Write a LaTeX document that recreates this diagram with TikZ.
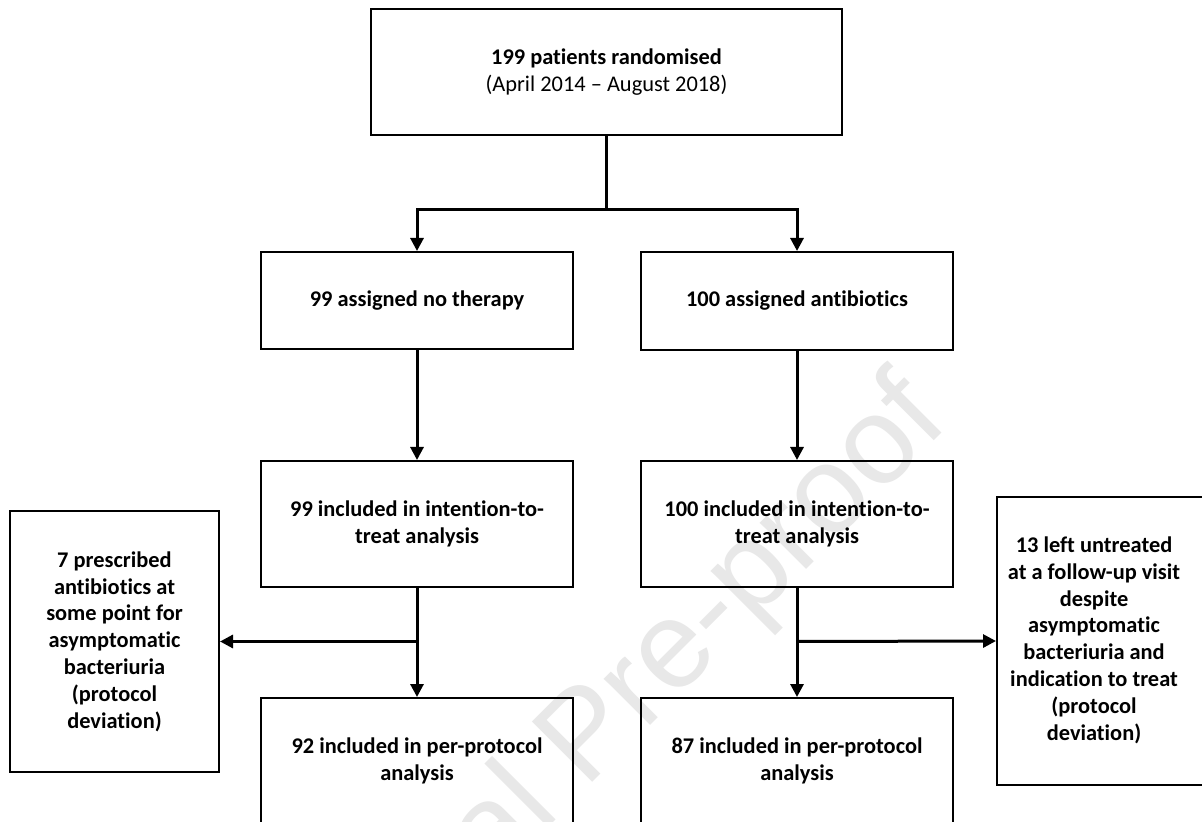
\documentclass[tikz,border=0pt]{standalone}
\usepackage{fontspec}
\setmainfont[Ligatures=NoCommon]{Carlito}
\newfontfamily\wmfont{Liberation Sans}
\usetikzlibrary{arrows.meta,calc}
\tikzset{
  box/.style={draw=black, line width=1pt, align=center, inner sep=0pt,
    font=\fontsize{11.2}{13.4}\selectfont\bfseries},
  conn/.style={draw=black, line width=1.5pt},
  arr/.style={conn, -{Triangle[length=6.5pt,width=6.5pt]}},
  wm/.style={text=black!9, font=\wmfont\fontsize{62}{70}\selectfont, rotate=45}
}
\begin{document}
\begin{tikzpicture}[x=0.5pt,y=-0.5pt]
\clip (0,0) rectangle (1202,822);
\fill[white] (0,0) rectangle (1202,822);
\node[wm] (wmark) at (590,740) {Journal Pre-proof};

\node[box, minimum width=235.5pt, minimum height=63pt] (top) at (606.5,72)
  {199 patients randomised\\{\mdseries (April 2014 -- August 2018)}};
\node[box, minimum width=156pt, minimum height=48.5pt] (nt) at (417,300.5) {99 assigned no therapy};
\node[box, minimum width=156pt, minimum height=49pt] (ab) at (797,301) {100 assigned antibiotics};
\node[box, minimum width=156pt, minimum height=63pt] (itta) at (417,524) {99 included in intention-to-\\treat analysis};
\node[box, minimum width=156pt, minimum height=63pt] (ittb) at (797,524) {100 included in intention-to-\\treat analysis};
\node[box, minimum width=156pt, minimum height=63pt] (ppa) at (417,761) {92 included in per-protocol\\analysis};
\node[box, minimum width=156pt, minimum height=63pt] (ppb) at (797,761) {87 included in per-protocol\\analysis};
\node[box, minimum width=104.5pt, minimum height=130.5pt] (deva) at (114.5,641.5)
  {7 prescribed\\antibiotics at\\some point for\\asymptomatic\\bacteriuria\\(protocol\\deviation)};
\node[box, minimum width=103pt, minimum height=144pt] (devb) at (1100,641)
  {\hspace*{-6pt}\begin{tabular}{@{}c@{}}13 left untreated\\at a follow-up visit\\despite\\asymptomatic\\bacteriuria and\\indication to treat\\(protocol\\deviation)\end{tabular}};

\coordinate (split) at (606.5,210);
\coordinate (ja) at (417,641.5);
\coordinate (jb) at (797,641.5);

\draw[conn] (top.south) -- (split);
\draw[arr] (split) -| (nt.north);
\draw[arr] (split) -| (ab.north);
\draw[arr] (nt.south) -- (itta.north);
\draw[arr] (ab.south) -- (ittb.north);
\draw[arr] (itta.south) -- (ppa.north);
\draw[arr] (ittb.south) -- (ppb.north);
\draw[arr] (ja) -- (deva.east);
\draw[arr] (jb) -- (devb.west);
\end{tikzpicture}
\end{document}
